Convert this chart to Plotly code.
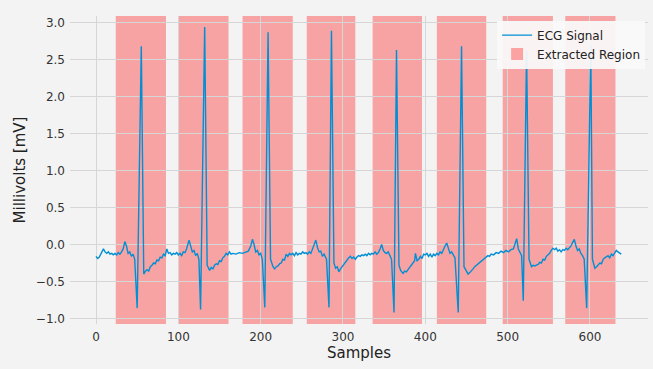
import plotly.graph_objects as go

# ECG polyline vertices (sample index, millivolts)
sample_idx = [
    0, 2, 4, 6, 9, 11, 13, 15, 17, 19, 21, 23, 25, 27, 29, 31, 33, 35, 37, 39,
    41, 43, 45, 47, 50, 55, 58, 60, 62, 64, 66, 68, 70, 72, 74, 76, 78, 80, 82, 84,
    86, 88, 90, 92, 94, 96, 98, 100, 102, 104, 106, 108, 110, 113, 115, 117, 119, 121, 123, 125,
    127, 132, 135, 138, 140, 142, 144, 146, 148, 150, 152, 154, 156, 158, 160, 162, 164, 166, 170, 174,
    178, 182, 185, 188, 190, 192, 194, 196, 198, 200, 202, 205, 209, 212, 215, 217, 219, 221, 223, 225,
    227, 229, 231, 233, 235, 237, 239, 241, 243, 245, 247, 249, 251, 253, 255, 257, 259, 261, 263, 265,
    267, 269, 271, 273, 275, 277, 280, 283, 286, 289, 291, 293, 295, 297, 299, 301, 303, 305, 307, 309,
    311, 313, 315, 317, 319, 321, 323, 325, 327, 329, 331, 333, 335, 337, 339, 341, 343, 345, 347, 349,
    351, 353, 355, 357, 359, 362, 365, 368, 370, 373, 375, 377, 379, 381, 383, 385, 387, 388, 390, 392,
    394, 396, 398, 400, 402, 404, 406, 408, 410, 412, 414, 416, 418, 420, 422, 424, 426, 428, 430, 432,
    434, 436, 440, 444, 447, 450, 452, 454, 456, 458, 460, 462, 464, 466, 468, 470, 472, 474, 476, 478,
    480, 483, 486, 489, 492, 495, 498, 501, 504, 507, 509, 511, 513, 515, 517, 519, 523, 526, 529, 531,
    533, 535, 537, 539, 541, 543, 545, 547, 549, 551, 553, 555, 557, 559, 561, 563, 565, 567, 569, 571,
    573, 575, 577, 579, 581, 583, 585, 587, 589, 591, 593, 596, 601, 603, 606, 608, 610, 612, 614, 616,
    618, 620, 622, 624, 626, 628, 630, 632, 634, 636, 638,
]
ecg_mv = [
    -0.16, -0.19, -0.17, -0.12, -0.06, -0.10, -0.12, -0.10, -0.13, -0.12, -0.14, -0.12, -0.14, -0.11, -0.13, -0.10, -0.06, 0.04, -0.02, -0.12,
    -0.10, -0.16, -0.13, -0.20, -0.86, 2.68, -0.40, -0.36, -0.34, -0.36, -0.30, -0.28, -0.25, -0.26, -0.21, -0.22, -0.17, -0.18, -0.13, -0.15,
    -0.06, -0.12, -0.11, -0.14, -0.12, -0.13, -0.11, -0.14, -0.12, -0.15, -0.10, -0.11, -0.06, 0.06, -0.02, -0.10, -0.08, -0.15, -0.12, -0.20,
    -0.88, 2.94, -0.28, -0.35, -0.31, -0.33, -0.28, -0.26, -0.27, -0.22, -0.23, -0.18, -0.16, -0.12, -0.14, -0.10, -0.13, -0.12, -0.13, -0.11,
    -0.12, -0.10, -0.09, -0.02, 0.07, 0.00, -0.10, -0.08, -0.14, -0.12, -0.20, -0.85, 2.87, -0.20, -0.30, -0.33, -0.30, -0.29, -0.26, -0.25,
    -0.20, -0.21, -0.13, -0.16, -0.12, -0.14, -0.12, -0.15, -0.11, -0.14, -0.12, -0.13, -0.10, -0.12, -0.11, -0.13, -0.10, -0.12, -0.05, 0.00,
    0.06, -0.04, -0.10, -0.09, -0.16, -0.13, -0.20, -0.85, 2.89, -0.25, -0.32, -0.30, -0.37, -0.33, -0.30, -0.26, -0.24, -0.20, -0.18, -0.16,
    -0.19, -0.17, -0.20, -0.17, -0.15, -0.16, -0.14, -0.15, -0.13, -0.15, -0.12, -0.14, -0.12, -0.13, -0.10, -0.13, -0.11, -0.06, 0.00, -0.08,
    -0.11, -0.12, -0.10, -0.15, -0.20, -0.92, 2.63, -0.28, -0.35, -0.39, -0.36, -0.37, -0.33, -0.31, -0.28, -0.25, -0.22, -0.12, -0.22, -0.20,
    -0.16, -0.19, -0.13, -0.14, -0.12, -0.16, -0.13, -0.17, -0.13, -0.15, -0.12, -0.14, -0.10, -0.12, -0.06, -0.02, 0.02, -0.06, -0.12, -0.10,
    -0.14, -0.18, -0.92, 2.68, -0.30, -0.37, -0.40, -0.38, -0.36, -0.33, -0.30, -0.28, -0.27, -0.24, -0.23, -0.21, -0.19, -0.17, -0.15, -0.16,
    -0.13, -0.14, -0.11, -0.12, -0.09, -0.11, -0.08, -0.10, -0.07, -0.06, 0.00, 0.08, -0.06, -0.10, -0.15, -0.76, 2.62, -0.20, -0.30, -0.28,
    -0.29, -0.28, -0.27, -0.24, -0.25, -0.20, -0.21, -0.16, -0.14, -0.12, -0.08, -0.05, -0.07, -0.05, -0.09, -0.07, -0.10, -0.07, -0.08, -0.05,
    -0.07, -0.04, -0.02, 0.03, 0.07, -0.02, -0.08, -0.06, -0.12, -0.15, -0.20, -0.86, 2.70, -0.20, -0.32, -0.30, -0.28, -0.25, -0.26, -0.20,
    -0.18, -0.17, -0.15, -0.18, -0.13, -0.15, -0.12, -0.08, -0.10, -0.11, -0.13,
]

# Extracted regions (sample ranges)
region_start = [24, 100, 178, 256, 336, 414, 494, 570]
region_end = [85, 161, 239, 315, 396, 474, 555, 631]

y_ticks = [-1.0, -0.5, 0.0, 0.5, 1.0, 1.5, 2.0, 2.5, 3.0]
x_ticks = [0, 100, 200, 300, 400, 500, 600]

BG = "#f3f3f3"
FONT = "DejaVu Sans"

fig = go.Figure()
fig.add_trace(go.Scatter(
    x=sample_idx, y=ecg_mv, mode="lines", name="ECG Signal",
    line=dict(color="#008fd5", width=1.4),
))

for i, (s, e) in enumerate(zip(region_start, region_end)):
    fig.add_shape(
        type="rect", xref="x", yref="paper", x0=s, x1=e, y0=0, y1=1,
        fillcolor="rgba(255,0,0,0.33)", line=dict(width=0), layer="between",
        name="Extracted Region", legendgroup="region", showlegend=(i == 0),
    )

fig.update_layout(
    width=653, height=369,
    margin=dict(l=70, r=5, t=16, b=45),
    paper_bgcolor=BG, plot_bgcolor=BG,
    font=dict(family=FONT, size=12, color="#333333"),
    legend=dict(
        x=0.995, y=0.985, xanchor="right", yanchor="top",
        bgcolor="rgba(250,250,250,0.92)", borderwidth=0,
        font=dict(family=FONT, size=12, color="#222222"),
        itemwidth=30, tracegroupgap=0,
    ),
    xaxis=dict(
        range=[-31.6, 670.5], tickvals=x_ticks, ticks="",
        showgrid=True, gridcolor="#d6d6d6", gridwidth=1, zeroline=False,
        showline=False, ticklabelstandoff=4,
        title=dict(text="Samples", font=dict(family=FONT, size=15, color="#222222"), standoff=4),
        tickfont=dict(family=FONT, size=12, color="#333333"),
    ),
    yaxis=dict(
        range=[-1.075, 3.09], tickvals=y_ticks, tickformat=".1f", ticks="",
        showgrid=True, gridcolor="#d6d6d6", gridwidth=1, zeroline=False,
        showline=False, ticklabelstandoff=4,
        title=dict(text="Millivolts [mV]", font=dict(family=FONT, size=15, color="#222222"), standoff=6),
        tickfont=dict(family=FONT, size=12, color="#333333"),
    ),
)

fig.write_html("out.html")
